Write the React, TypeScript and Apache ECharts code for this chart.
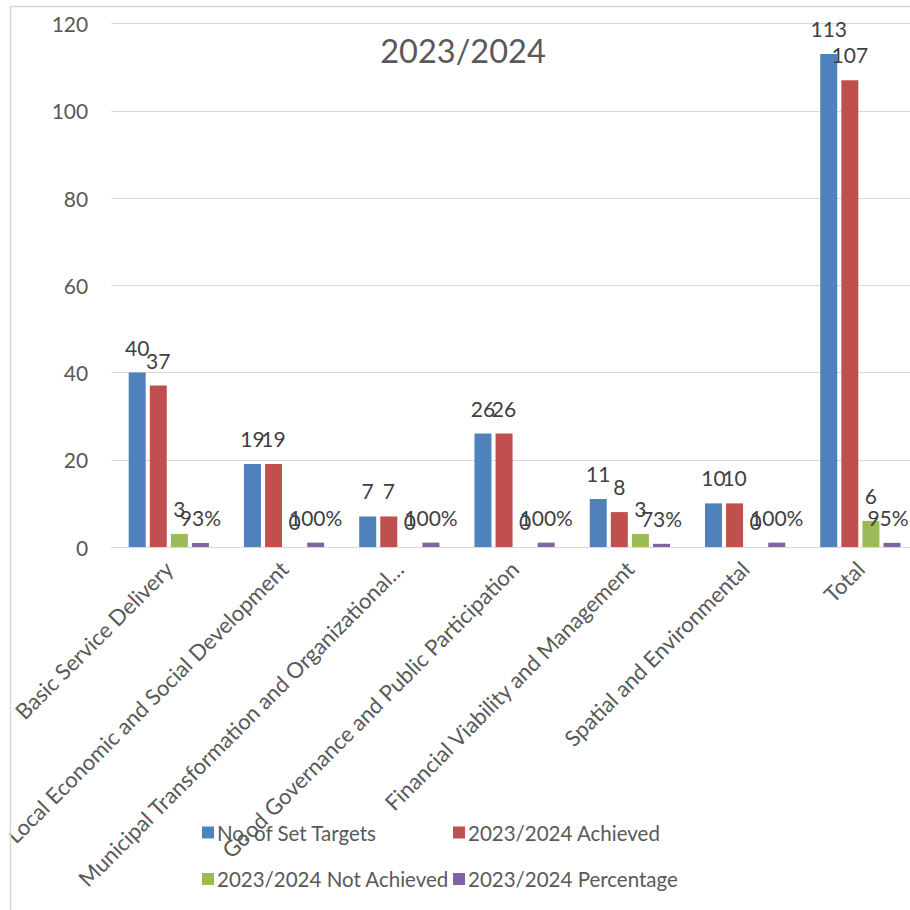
import React, { useEffect, useRef } from "react";
import * as echarts from "echarts";

const categories = [
  "Basic Service Delivery",
  "Local Economic and Social Development",
  "Municipal Transformation and Organizational…",
  "Good Governance and Public Participation",
  "Financial Viability and Management",
  "Spatial and Environmental",
  "Total",
];
const seriesNames = [
  "No. of Set Targets",
  "2023/2024 Achieved",
  "2023/2024 Not Achieved",
  "2023/2024 Percentage",
];
const setTargets = [40, 19, 7, 26, 11, 10, 113];
const achieved = [37, 19, 7, 26, 8, 10, 107];
const notAchieved = [3, 0, 0, 0, 3, 0, 6];
const percentage = [0.93, 1, 1, 1, 0.73, 1, 0.95];
const colors = ["#4F81BD", "#C0504D", "#9BBB59", "#8064A2"];
const yMin = 0;
const yMax = 120;
const yInterval = 20;

const FONT = "Lato, 'Open Sans', sans-serif";

export default function App() {
  const ref = useRef<HTMLDivElement>(null);
  useEffect(() => {
    if (!ref.current) return;
    const chart = echarts.init(ref.current, null, { renderer: "svg" });
    const label = (isPct: boolean) => ({
      show: true,
      position: "top" as const,
      distance: 15,
      fontFamily: FONT,
      fontSize: 21,
      color: "#404040",
      formatter: (p: any) =>
        isPct ? Math.round(p.value * 100) + "%" : String(p.value),
    });
    const data = [setTargets, achieved, notAchieved, percentage];
    const legendText = {
      fontFamily: FONT,
      fontSize: 20.5,
      color: "#595959",
      lineHeight: 20,
      padding: [0, 0, 0, -2],
    };
    chart.setOption({
      animation: false,
      backgroundColor: "#ffffff",
      color: colors,
      textStyle: { fontFamily: FONT },
      grid: { left: 110, right: 2, top: 23.5, bottom: 363, containLabel: false },
      legend: [
        {
          orient: "vertical",
          left: 202,
          top: 822,
          padding: 0,
          itemWidth: 12,
          itemHeight: 12,
          itemGap: 25.5,
          icon: "rect",
          selectedMode: false,
          data: [seriesNames[0], seriesNames[2]],
          textStyle: legendText,
        },
        {
          orient: "vertical",
          left: 453,
          top: 822,
          padding: 0,
          itemWidth: 12,
          itemHeight: 12,
          itemGap: 25.5,
          icon: "rect",
          selectedMode: false,
          data: [seriesNames[1], seriesNames[3]],
          textStyle: legendText,
        },
      ],
      xAxis: {
        type: "category",
        data: categories,
        axisLine: { show: true, lineStyle: { color: "#d9d9d9", width: 1 } },
        axisTick: { show: false },
        axisLabel: {
          interval: 0,
          rotate: 45,
          margin: 18,
          fontFamily: FONT,
          fontSize: 22,
          color: "#595959",
        },
      },
      yAxis: {
        type: "value",
        min: yMin,
        max: yMax,
        interval: yInterval,
        axisLine: { show: false },
        axisTick: { show: false },
        axisLabel: { margin: 23, fontFamily: FONT, fontSize: 21, color: "#595959" },
        splitLine: { lineStyle: { color: "#d9d9d9", width: 1 } },
      },
      series: data.map((d, i) => ({
        name: seriesNames[i],
        type: "bar",
        data: d.map((v, j) =>
          i === 3 && j === d.length - 1
            ? { value: v, label: { offset: [-4, 0] } }
            : v
        ),
        barWidth: 17,
        barGap: "24%",
        itemStyle: { color: colors[i] },
        label: label(i === 3),
      })),
      graphic: [
        {
          type: "rect",
          z: 100,
          shape: { x: 0, y: 0, width: 9.5, height: 910 },
          style: { fill: "#ffffff" },
          silent: true,
        },
        {
          type: "rect",
          z: 101,
          shape: { x: 10.5, y: 6.5, width: 930, height: 930 },
          style: { fill: "none", stroke: "#d9d9d9", lineWidth: 1.5 },
          silent: true,
        },
        {
          type: "text",
          z: 50,
          x: 463,
          y: 50,
          style: {
            text: "2023/2024",
            fontFamily: FONT,
            fontSize: 32.5,
            fill: "#595959",
            textAlign: "center",
            textVerticalAlign: "middle",
          },
        },
      ],
    });
    return () => chart.dispose();
  }, []);
  return (
    <div
      style={{
        position: "absolute",
        left: 0,
        top: 0,
        width: 910,
        height: 910,
        overflow: "hidden",
      }}
    >
      <div ref={ref} style={{ width: 920, height: 910 }} />
    </div>
  );
}
